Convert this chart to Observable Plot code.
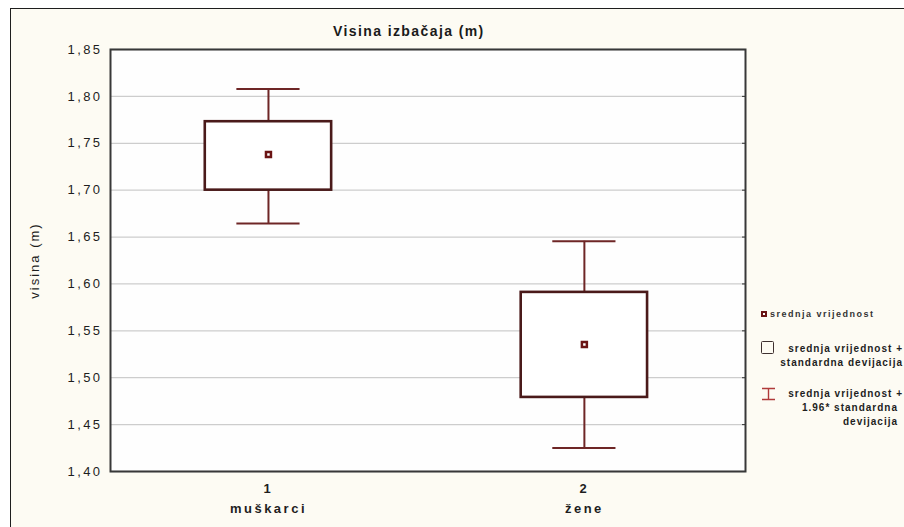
<!DOCTYPE html>
<html>
<head>
<meta charset="utf-8">
<script src="https://cdn.jsdelivr.net/npm/d3@7"></script>
<script src="https://cdn.jsdelivr.net/npm/@observablehq/plot@0.6"></script>
<style>
  html, body { margin: 0; padding: 0; background: #fff; }
  #wrap { position: relative; width: 904px; height: 527px; overflow: hidden; background: #fff;
          font-family: "Liberation Sans", Arial, sans-serif; }
  #bg { position: absolute; left: 10px; top: 8px; right: -2px; bottom: -2px; background: #fdfbf3;
        border-left: 1.5px solid #1e1e1e; border-top: 1.5px solid #1e1e1e; }
  #chart { position: absolute; left: 0; top: 0; }
  #title { position: absolute; left: 333px; top: 23px; font-size: 14px; font-weight: bold;
           letter-spacing: 1.4px; color: #1a1a1a; line-height: 16px; white-space: nowrap; }
  .lg { position: absolute; font-size: 10px; font-weight: bold; letter-spacing: 1px; color: #1e1e1e;
        line-height: 12px; white-space: nowrap; }
  .vchart g[aria-label="y-axis tick label"] text { letter-spacing: 2.4px; }
  .vchart g[aria-label="y-axis label"] text { letter-spacing: 2px; }
  .vchart g[aria-label="x-axis tick label"] text { letter-spacing: 2.5px; }
</style>
</head>
<body>
<div id="wrap">
  <div id="bg"></div>
  <div id="chart"></div>
  <div id="title"></div>
  <div id="legend"></div>
</div>
<script>
// ---- data ----
const groups = [1, 2];
const groupNames = ["muškarci", "žene"];
const means = [1.738, 1.5355];
const sdLow = [1.700, 1.479];
const sdHigh = [1.773, 1.591];
const ciLow = [1.6645, 1.425];
const ciHigh = [1.808, 1.6455];
const yTicks = [1.40, 1.45, 1.50, 1.55, 1.60, 1.65, 1.70, 1.75, 1.80, 1.85];
const titleText = "Visina izbačaja (m)";
const yLabel = "visina (m)";
const legendMean = "srednja vrijednost";
const legendBox = ["srednja vrijednost +", "standardna devijacija"];
const legendWhisker = ["srednja vrijednost +", "1.96* standardna", "devijacija"];

const rows = groups.map((g, i) => ({
  g, name: groupNames[i], mean: means[i], sdLow: sdLow[i], sdHigh: sdHigh[i],
  ciLow: ciLow[i], ciHigh: ciHigh[i]
}));

const boxColor = "#4a1a1a";
const whiskerColor = "#6e2626";
const markColor = "#6a1414";

const chart = Plot.plot({
  width: 904,
  height: 527,
  marginLeft: 110,
  marginRight: 159,
  marginTop: 49,
  marginBottom: 56,
  className: "vchart",
  style: { fontFamily: "'Liberation Sans', Arial, sans-serif", fontSize: "13px", color: "#1e1e1e",
           background: "transparent", overflow: "visible" },
  x: { domain: [0.5, 2.51] },
  y: { domain: [1.40, 1.85] },
  marks: [
    Plot.frame({ fill: "#fefefe", stroke: null }),
    Plot.gridY(yTicks, { stroke: "#cdcdcd", strokeOpacity: 1, strokeWidth: 1.3 }),
    Plot.ruleX(rows, { x: "g", y1: "ciLow", y2: "ciHigh", stroke: whiskerColor, strokeWidth: 2 }),
    Plot.ruleY(rows, { y: "ciLow", x1: d => d.g - 0.1, x2: d => d.g + 0.1, stroke: whiskerColor, strokeWidth: 2 }),
    Plot.ruleY(rows, { y: "ciHigh", x1: d => d.g - 0.1, x2: d => d.g + 0.1, stroke: whiskerColor, strokeWidth: 2 }),
    Plot.rect(rows, { x1: d => d.g - 0.2, x2: d => d.g + 0.2, y1: "sdLow", y2: "sdHigh",
                      fill: "#fff", stroke: boxColor, strokeWidth: 2.6 }),
    Plot.dot(rows, { x: "g", y: "mean", symbol: "square", r: 2.8, fill: "#fff",
                     stroke: markColor, strokeWidth: 2.5 }),
    Plot.axisY({ ticks: yTicks, tickFormat: d => d.toFixed(2).replace(".", ","), tickSize: 0,
                 tickPadding: 8, fontSize: 13, label: yLabel, labelAnchor: "center",
                 labelOffset: 81, labelArrow: "none" }),
    Plot.axisY({ anchor: "right", ticks: yTicks, tickFormat: () => "", tickSize: -4,
                 stroke: "#333", label: null }),
    Plot.axisX({ ticks: groups, tickFormat: d => String(d), tickSize: 0, tickPadding: 12,
                 fontWeight: "bold", fontSize: 13, label: null }),
    Plot.axisX({ ticks: groups, tickFormat: d => groupNames[d - 1], tickSize: 0, tickPadding: 32,
                 fontWeight: "bold", fontSize: 13, label: null }),
    Plot.frame({ stroke: "#383838", strokeWidth: 2 })
  ]
});
document.getElementById("chart").appendChild(chart);
document.getElementById("title").textContent = titleText;

// ---- legend ----
const lg = document.getElementById("legend");
function addText(txt, cy, opts) {
  const d = document.createElement("div");
  d.className = "lg";
  d.textContent = txt;
  d.style.top = (cy - 6) + "px";
  if (opts.left != null) d.style.left = opts.left + "px";
  if (opts.right != null) d.style.right = (904 - opts.right) + "px";
  if (opts.size) d.style.fontSize = opts.size + "px";
  if (opts.ls != null) d.style.letterSpacing = opts.ls + "px";
  if (opts.color) d.style.color = opts.color;
  lg.appendChild(d);
}
function addHTML(html) {
  const d = document.createElement("div");
  d.innerHTML = html;
  lg.appendChild(d.firstElementChild);
}
// mean marker
addHTML(`<div style="position:absolute;left:761px;top:311px;width:2px;height:2px;border:2px solid ${markColor};background:#fff"></div>`);
addText(legendMean, 314, { left: 770, size: 9, ls: 1.5, color: "#333" });
// box icon
addHTML(`<div style="position:absolute;left:761px;top:341px;width:11px;height:11px;border:1.6px solid #3e3030;border-radius:1.5px;background:#fdfbf3"></div>`);
addText(legendBox[0], 349, { right: 903 });
addText(legendBox[1], 363, { right: 903 });
// whisker icon
addHTML(`<svg style="position:absolute;left:760px;top:387px" width="17" height="14"><path d="M2,1.5H15M8.5,1.5V12.5M2,12.5H15" stroke="#b03a3a" stroke-width="1.4" fill="none"/></svg>`);
addText(legendWhisker[0], 394, { right: 903 });
addText(legendWhisker[1], 408, { right: 898 });
addText(legendWhisker[2], 422, { right: 898 });
</script>
</body>
</html>
